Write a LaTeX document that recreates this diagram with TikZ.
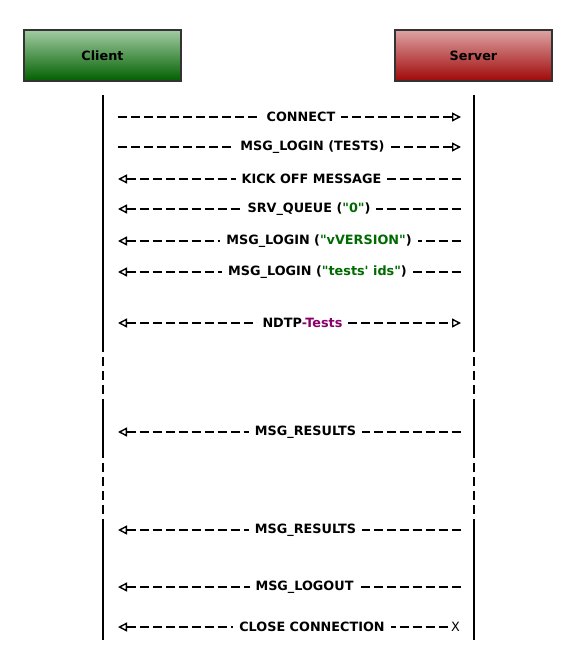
\documentclass[tikz,border=0pt]{standalone}
\usepackage{fontspec}
\setmainfont{DejaVu Sans}[Ligatures=TeXOff]
\usetikzlibrary{arrows.meta}
\definecolor{gtop}{HTML}{A3CBA3}
\definecolor{gbot}{HTML}{006000}
\definecolor{rtop}{HTML}{DDA3A3}
\definecolor{rbot}{HTML}{A00808}
\definecolor{txtgreen}{HTML}{006A00}
\definecolor{txtpurple}{HTML}{8A0066}
\newcommand{\dq}{\char34\relax}
\newcommand{\sq}{\char39\relax}
\tikzset{
  actor/.style={draw=black!80, line width=2pt, minimum width=157pt, minimum height=51pt, font=\fontsize{12.8}{14}\bfseries, inner sep=0pt},
  life/.style={line width=2pt, black},
  lifedash/.style={line width=2pt, black, dash pattern=on 9pt off 5pt},
  msg/.style={line width=1.4pt, dash pattern=on 9pt off 4pt},
  lbl/.style={fill=white, font=\fontsize{12.8}{14}\bfseries, inner xsep=6pt, inner ysep=3pt, text=black},
  msgtip/.tip={Triangle[open, length=9pt, width=9pt, line width=1.4pt]},
}
\begin{document}
\begin{tikzpicture}[x=1pt, y=-1pt]
\useasboundingbox (0,0) rectangle (582,668);
\node[actor, top color=gtop, bottom color=gbot] (client) at (102.5,55.5) {Client};
\node[actor, top color=rtop, bottom color=rbot] (server) at (473.5,55.5) {Server};
% lifelines
\foreach \x/\n in {103/c,474/s}{
  \coordinate (\n0) at (\x,95);
  \coordinate (\n1) at (\x,343);
  \coordinate (\n2) at (\x,405);
  \coordinate (\n3) at (\x,449);
  \coordinate (\n4) at (\x,457);
  \coordinate (\n5) at (\x,520);
  \coordinate (\n6) at (\x,640);
  \draw[life] (\n0) -- (\n1);
  \draw[lifedash] (\n1) -- (\n2);
  \draw[life] (\n2) -- (\n3);
  \draw[lifedash] (\n3) -- (\n5);
  \draw[life] (\n5) -- (\n6);
}
% message ends
\foreach \i/\y in {1/117,2/147,3/179,4/209,5/241,6/272,7/323,8/432,9/530,10/587,11/627}{
  \coordinate (a\i) at (118,\y);
  \coordinate (b\i) at (461,\y);
}
\draw[msg, -{msgtip}] (a1) -- node[lbl, xshift=11.5pt] {CONNECT} (b1);
\draw[msg, -{msgtip}] (a2) -- node[lbl, xshift=23pt] {MSG\_LOGIN (TESTS)} (b2);
\draw[msg, {msgtip}-] (a3) -- node[lbl, xshift=22pt] {KICK OFF MESSAGE} (b3);
\draw[msg, {msgtip}-] (a4) -- node[lbl, xshift=19.5pt] {SRV\_QUEUE (\textcolor{txtgreen}{\dq 0\dq})} (b4);
\draw[msg, {msgtip}-] (a5) -- node[lbl, xshift=29.5pt] {MSG\_LOGIN (\textcolor{txtgreen}{\dq vVERSION\dq})} (b5);
\draw[msg, {msgtip}-] (a6) -- node[lbl, xshift=28pt] {MSG\_LOGIN (\textcolor{txtgreen}{\dq tests\sq\ ids\dq})} (b6);
\draw[msg, {msgtip}-{msgtip}] (a7) -- node[lbl, xshift=13pt] {NDTP\textcolor{txtpurple}{-Tests}} (b7);
\draw[msg, {msgtip}-] (a8) -- node[lbl, xshift=16pt] {MSG\_RESULTS} (b8);
\draw[msg, {msgtip}-] (a9) -- node[lbl, xshift=16pt] {MSG\_RESULTS} (b9);
\draw[msg, {msgtip}-] (a10) -- node[lbl, xshift=15pt] {MSG\_LOGOUT} (b10);
\coordinate (x11) at (451,627);
\draw[msg, {msgtip}-] (a11) -- node[lbl, xshift=27.5pt] {CLOSE CONNECTION} (x11);
\node[font=\fontsize{12.8}{14}\selectfont, anchor=west, inner sep=0pt] (xm) at (x11) {X};
\end{tikzpicture}
\end{document}
